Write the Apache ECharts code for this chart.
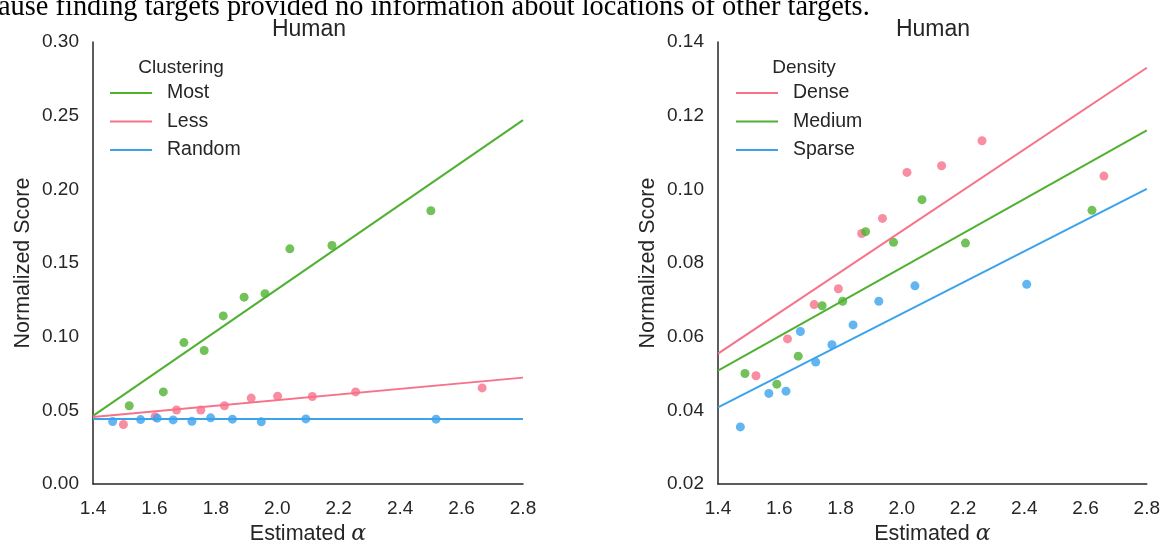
<!DOCTYPE html>
<html>
<head>
<meta charset="utf-8">
<script src="https://cdn.jsdelivr.net/npm/echarts@6/dist/echarts.min.js"></script>
<style>html,body{margin:0;padding:0;background:#fff;}#c{width:1163px;height:550px;}</style>
</head>
<body>
<div id="c"></div>
<script>
// ---- Data ----
const fitX = [1.4, 2.8];
// Left panel: Clustering
const mostX = [1.518, 1.629, 1.696, 1.762, 1.824, 1.892, 1.960, 2.041, 2.178, 2.500];
const mostY = [0.0531, 0.0625, 0.0960, 0.0906, 0.1141, 0.1268, 0.1292, 0.1596, 0.1619, 0.1855];
const mostFit = [0.0462, 0.2470];
const lessX = [1.499, 1.602, 1.672, 1.751, 1.828, 1.915, 2.001, 2.114, 2.255, 2.667];
const lessY = [0.0404, 0.0457, 0.0502, 0.0502, 0.0531, 0.0583, 0.0596, 0.0594, 0.0625, 0.0652];
const lessFit = [0.0455, 0.0722];
const randomX = [1.464, 1.555, 1.609, 1.661, 1.722, 1.783, 1.854, 1.948, 2.093, 2.517];
const randomY = [0.0424, 0.0437, 0.0447, 0.0435, 0.0426, 0.0449, 0.0440, 0.0422, 0.0442, 0.0440];
const randomFit = [0.0441, 0.0441];
// Right panel: Density
const denseX = [1.524, 1.627, 1.714, 1.793, 1.869, 1.937, 2.017, 2.130, 2.262, 2.660];
const denseY = [0.0494, 0.0594, 0.0687, 0.0730, 0.0880, 0.0921, 0.1046, 0.1064, 0.1132, 0.1036];
const denseFit = [0.0554, 0.1330];
const mediumX = [1.488, 1.592, 1.662, 1.740, 1.807, 1.882, 1.973, 2.066, 2.208, 2.621];
const mediumY = [0.0500, 0.0471, 0.0547, 0.0684, 0.0696, 0.0885, 0.0856, 0.0972, 0.0854, 0.0943];
const mediumFit = [0.0508, 0.1160];
const sparseX = [1.473, 1.566, 1.622, 1.669, 1.719, 1.772, 1.841, 1.925, 2.043, 2.408];
const sparseY = [0.0355, 0.0446, 0.0452, 0.0614, 0.0531, 0.0578, 0.0632, 0.0696, 0.0738, 0.0742];
const sparseFit = [0.0408, 0.1001];

const leftTicks = [0, 0.05, 0.10, 0.15, 0.20, 0.25, 0.30];
const rightTicks = [0.02, 0.04, 0.06, 0.08, 0.10, 0.12, 0.14];
const xTicks = [1.4, 1.6, 1.8, 2.0, 2.2, 2.4, 2.6, 2.8];

const PINK = '#f77189', GREEN = '#50b131', BLUE = '#3ba3ec';
const INK = '#262626';
const FONT = 'Liberation Sans, Arial, sans-serif';

function zip(xs, ys) { return xs.map((x, i) => [x, ys[i]]); }

function scatter(name, xs, ys, color, idx) {
  return { name: name, type: 'scatter', xAxisIndex: idx, yAxisIndex: idx,
    data: zip(xs, ys), symbolSize: 9, itemStyle: { color: color, opacity: 0.8 }, z: 2, silent: true };
}
function fit(name, ys, color, idx) {
  return { name: name, type: 'line', xAxisIndex: idx, yAxisIndex: idx,
    data: zip(fitX, ys), showSymbol: false, symbol: 'none', color: color,
    lineStyle: { color: color, width: 2 }, itemStyle: { color: color }, z: 3, silent: true };
}

function xAxis(idx) {
  return { type: 'value', gridIndex: idx, min: xTicks[0], max: xTicks[xTicks.length - 1], interval: 0.2,
    axisLine: { show: true, lineStyle: { color: INK, width: 1.5 } },
    axisTick: { show: false }, splitLine: { show: false },
    axisLabel: { color: INK, fontSize: 19, fontFamily: FONT, margin: 15, formatter: v => v.toFixed(1) },
    name: 'Estimated {a|α}', nameLocation: 'middle', nameGap: 39,
    nameTextStyle: { color: INK, fontSize: 21.5, fontFamily: FONT,
      rich: { a: { fontFamily: 'DejaVu Serif, serif', fontStyle: 'italic', fontSize: 22, color: INK } } } };
}
function yAxis(idx, ticks) {
  return { type: 'value', gridIndex: idx, min: ticks[0], max: ticks[ticks.length - 1], interval: ticks[1] - ticks[0],
    axisLine: { show: true, lineStyle: { color: INK, width: 1.5 } },
    axisTick: { show: false }, splitLine: { show: false },
    axisLabel: { color: INK, fontSize: 19, fontFamily: FONT, margin: 14, formatter: v => v.toFixed(2) },
    name: 'Normalized Score', nameLocation: 'middle', nameGap: 59,
    nameTextStyle: { color: INK, fontSize: 21.5, fontFamily: FONT } };
}
function legend(names, left) {
  return { data: names, orient: 'vertical', left: left, top: 78, icon: 'rect', itemWidth: 42, itemHeight: 2,
    itemGap: 8.5, padding: 5,
    textStyle: { color: INK, fontSize: 19.5, fontFamily: FONT, lineHeight: 20, padding: [0, 0, 0, 10] } };
}

const chart = echarts.init(document.getElementById('c'), null, { renderer: 'canvas' });
chart.setOption({
  backgroundColor: '#fff',
  animation: false,
  title: [
    { text: 'Human', left: 304, top: 13, textAlign: 'center', textStyle: { color: INK, fontSize: 23, fontWeight: 'normal', fontFamily: FONT } },
    { text: 'Human', left: 928, top: 13, textAlign: 'center', textStyle: { color: INK, fontSize: 23, fontWeight: 'normal', fontFamily: FONT } },
    { text: 'Clustering', left: 176, top: 53, textAlign: 'center', textStyle: { color: INK, fontSize: 19, fontWeight: 'normal', fontFamily: FONT } },
    { text: 'Density', left: 799, top: 53, textAlign: 'center', textStyle: { color: INK, fontSize: 19, fontWeight: 'normal', fontFamily: FONT } }
  ],
  graphic: [
    { type: 'text', left: -2, top: -6.5, silent: true,
      style: { text: 'ause finding targets provided no information about locations of other targets.',
        font: '28.4px "Liberation Serif", "Times New Roman", serif', fill: '#000' } }
  ],
  legend: [ legend(['Most', 'Less', 'Random'], 105), legend(['Dense', 'Medium', 'Sparse'], 731) ],
  grid: [
    { left: 93, top: 42, width: 430, height: 450 },
    { left: 718, top: 42, width: 430, height: 450 }
  ],
  xAxis: [ xAxis(0), xAxis(1) ],
  yAxis: [ yAxis(0, leftTicks), yAxis(1, rightTicks) ],
  series: [
    scatter('Most pts', mostX, mostY, GREEN, 0),
    scatter('Less pts', lessX, lessY, PINK, 0),
    scatter('Random pts', randomX, randomY, BLUE, 0),
    fit('Most', mostFit, GREEN, 0),
    fit('Less', lessFit, PINK, 0),
    fit('Random', randomFit, BLUE, 0),
    scatter('Dense pts', denseX, denseY, PINK, 1),
    scatter('Medium pts', mediumX, mediumY, GREEN, 1),
    scatter('Sparse pts', sparseX, sparseY, BLUE, 1),
    fit('Dense', denseFit, PINK, 1),
    fit('Medium', mediumFit, GREEN, 1),
    fit('Sparse', sparseFit, BLUE, 1)
  ]
});
</script>
</body>
</html>
